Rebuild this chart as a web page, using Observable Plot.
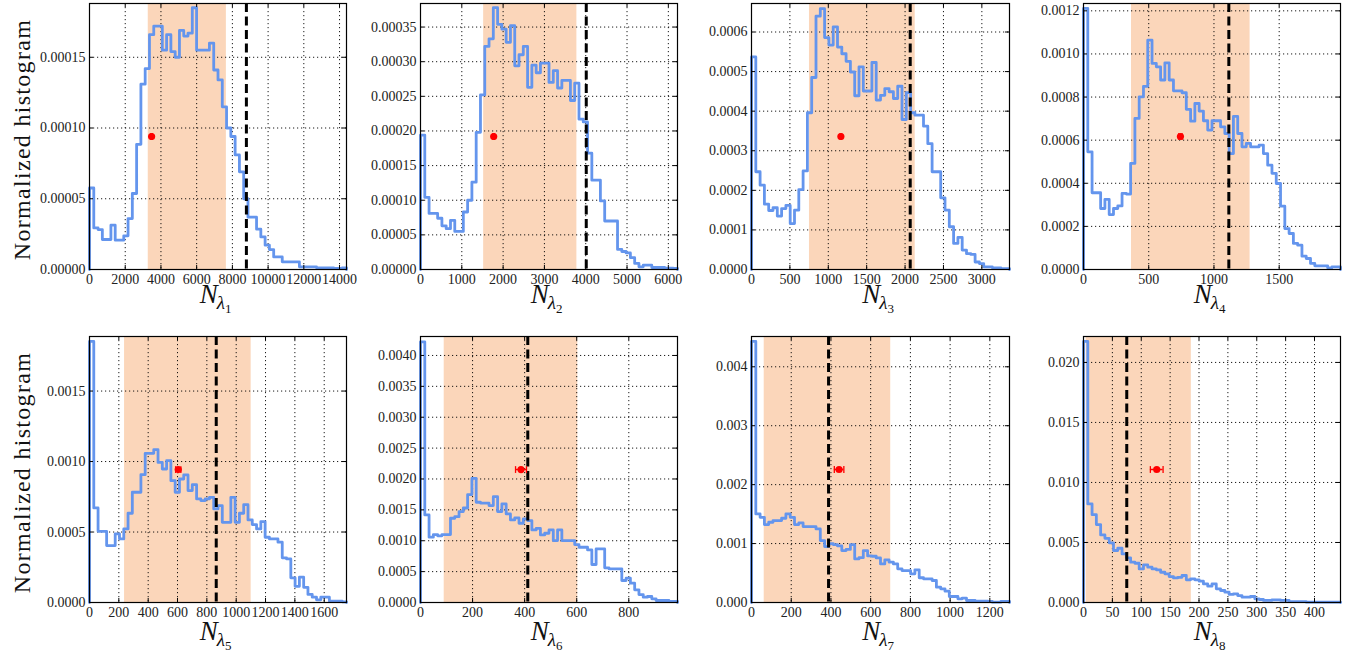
<!DOCTYPE html>
<html>
<head>
<meta charset="utf-8">
<script src="https://cdn.jsdelivr.net/npm/d3@7"></script>
<script src="https://cdn.jsdelivr.net/npm/@observablehq/plot@0.6"></script>
<style>
  body { margin: 0; background: #fff; }
  #fig { position: relative; width: 1363px; height: 654px; overflow: hidden; font-family: "Liberation Serif", serif; }
  #fig svg { position: absolute; }
  #fig svg text { font-family: "Liberation Serif", serif; }
</style>
</head>
<body>
<div id="fig"></div>
<script>
// Normalized step histograms of the counts N_lambda1 ... N_lambda8 (60 equal bins from 0 to xMax)
const hist1 = [5.76e-5, 2.94e-5, 2.82e-5, 2.12e-5, 2.12e-5, 3.13e-5, 2.07e-5, 2.07e-5, 2.38e-5, 3.6e-5,
  5.37e-5, 8.85e-5, 1.31e-4, 1.42e-4, 1.66e-4, 1.72e-4, 1.72e-4, 1.55e-4, 1.66e-4, 1.54e-4,
  1.5e-4, 1.69e-4, 1.65e-4, 1.67e-4, 1.85e-4, 1.55e-4, 1.55e-4, 1.55e-4, 1.6e-4, 1.41e-4,
  1.34e-4, 1.15e-4, 1.0e-4, 9.4e-5, 8.1e-5, 6.9e-5, 5.0e-5, 3.7e-5, 3.7e-5, 2.85e-5,
  2.3e-5, 1.72e-5, 1.41e-5, 8.9e-6, 8.9e-6, 5.4e-6, 5.4e-6, 5.4e-6, 5.4e-6, 1.9e-6,
  1.9e-6, 1.9e-6, 1.9e-6, 1.2e-6, 1.2e-6, 1.2e-6, 1.2e-6, 0.7e-6, 0.7e-6, 1.2e-6];
const hist2 = [1.94e-4, 1.04e-4, 8.1e-5, 8.1e-5, 7.4e-5, 6.3e-5, 5.9e-5, 7.1e-5, 5.5e-5, 5.5e-5,
  8.3e-5, 1.0e-4, 1.26e-4, 1.98e-4, 2.52e-4, 3.22e-4, 3.33e-4, 3.78e-4, 3.54e-4, 3.47e-4,
  3.28e-4, 3.52e-4, 2.94e-4, 3.1e-4, 3.22e-4, 2.63e-4, 2.95e-4, 2.84e-4, 2.98e-4, 2.98e-4,
  2.7e-4, 2.87e-4, 2.62e-4, 2.73e-4, 2.73e-4, 2.44e-4, 2.69e-4, 2.17e-4, 2.13e-4, 1.68e-4,
  1.29e-4, 1.29e-4, 9.9e-5, 7.0e-5, 7.0e-5, 7.0e-5, 2.9e-5, 2.6e-5, 2.4e-5, 1.7e-5,
  8.7e-6, 3.9e-6, 6.3e-6, 6.3e-6, 2.9e-6, 2.9e-6, 2.9e-6, 1.9e-6, 1.9e-6, 1.5e-6];
const hist3 = [5.37e-4, 2.47e-4, 2.13e-4, 1.65e-4, 1.49e-4, 1.56e-4, 1.35e-4, 1.54e-4, 1.62e-4, 1.16e-4,
  1.5e-4, 2.02e-4, 2.49e-4, 3.96e-4, 4.85e-4, 6.4e-4, 6.59e-4, 5.86e-4, 5.67e-4, 6.13e-4,
  5.62e-4, 5.45e-4, 5.26e-4, 4.99e-4, 4.39e-4, 5.12e-4, 4.51e-4, 4.51e-4, 5.23e-4, 4.28e-4,
  4.4e-4, 4.57e-4, 4.49e-4, 4.32e-4, 4.63e-4, 3.79e-4, 4.47e-4, 3.96e-4, 3.9e-4, 3.9e-4,
  3.62e-4, 3.18e-4, 2.47e-4, 2.47e-4, 1.81e-4, 1.5e-4, 1.08e-4, 6.6e-5, 8.1e-5, 4.9e-5,
  4.0e-5, 3.8e-5, 1.9e-5, 1.5e-5, 6.7e-6, 6.7e-6, 4.2e-6, 4.2e-6, 2e-6, 2e-6];
const hist4 = [1.211e-3, 5.46e-4, 3.56e-4, 3.56e-4, 2.83e-4, 3.25e-4, 2.55e-4, 2.83e-4, 2.95e-4, 3.53e-4,
  3.5e-4, 4.92e-4, 7.01e-4, 8.01e-4, 8.5e-4, 1.064e-3, 9.56e-4, 9.4e-4, 8.79e-4, 9.59e-4,
  8.79e-4, 8.29e-4, 8.29e-4, 8.2e-4, 7.43e-4, 6.88e-4, 7.7e-4, 7.35e-4, 6.9e-4, 6.47e-4,
  6.9e-4, 6.9e-4, 6.62e-4, 6.31e-4, 5.38e-4, 7.1e-4, 6.31e-4, 5.69e-4, 5.85e-4, 5.69e-4,
  5.69e-4, 5.77e-4, 5.38e-4, 4.84e-4, 4.46e-4, 3.99e-4, 2.94e-4, 1.9e-4, 1.67e-4, 1.21e-4,
  1.13e-4, 6.2e-5, 5.1e-5, 2.8e-5, 1.7e-5, 1.7e-5, 1.7e-5, 8e-6, 1.2e-5, 1.2e-5];
const hist5 = [1.852e-3, 6.71e-4, 5.05e-4, 5.05e-4, 4.04e-4, 4.04e-4, 4.87e-4, 4.51e-4, 5.22e-4, 6.33e-4,
  7.82e-4, 7.82e-4, 9.07e-4, 1.058e-3, 1.058e-3, 1.084e-3, 9.94e-4, 9.47e-4, 1.006e-3, 8.64e-4,
  7.82e-4, 8.76e-4, 9.05e-4, 7.94e-4, 8.36e-4, 7.35e-4, 7.23e-4, 7.35e-4, 7.46e-4, 6.64e-4,
  6.87e-4, 5.69e-4, 5.69e-4, 7.46e-4, 5.69e-4, 6.33e-4, 6.94e-4, 5.86e-4, 5.53e-4, 5.22e-4,
  5.74e-4, 4.63e-4, 4.51e-4, 4.51e-4, 4.28e-4, 3.17e-4, 3.09e-4, 1.75e-4, 1.15e-4, 1.8e-4,
  1.08e-4, 5.7e-5, 3.8e-5, 1.9e-5, 3.8e-5, 3.8e-5, 1.0e-5, 1.0e-5, 1.0e-5, 5e-6];
const hist6 = [4.22e-3, 1.418e-3, 1.057e-3, 1.1e-3, 1.08e-3, 1.1e-3, 1.1e-3, 1.364e-3, 1.39e-3, 1.472e-3,
  1.53e-3, 1.747e-3, 2.01e-3, 1.623e-3, 1.61e-3, 1.61e-3, 1.57e-3, 1.714e-3, 1.472e-3, 1.596e-3,
  1.434e-3, 1.337e-3, 1.37e-3, 1.283e-3, 1.353e-3, 1.326e-3, 1.175e-3, 1.2e-3, 1.094e-3, 1.121e-3,
  1.175e-3, 1.003e-3, 1.175e-3, 1.003e-3, 1.003e-3, 1.003e-3, 9.38e-4, 8.95e-4, 8.95e-4, 8.52e-4,
  6.15e-4, 8.68e-4, 8.68e-4, 5.61e-4, 5.45e-4, 5.45e-4, 5.45e-4, 3.56e-4, 3.94e-4, 3.13e-4,
  2.05e-4, 1.29e-4, 8.6e-5, 9.7e-5, 5.9e-5, 3.2e-5, 3.2e-5, 3.2e-5, 1.6e-5, 1.6e-5];
const hist7 = [4.43e-3, 1.503e-3, 1.446e-3, 1.322e-3, 1.362e-3, 1.39e-3, 1.39e-3, 1.43e-3, 1.503e-3, 1.446e-3,
  1.322e-3, 1.35e-3, 1.288e-3, 1.288e-3, 1.288e-3, 1.249e-3, 1.051e-3, 9.49e-4, 1.0e-3, 9.83e-4,
  9.6e-4, 8.81e-4, 9.0e-4, 9.83e-4, 7.4e-4, 7.6e-4, 8.81e-4, 7.91e-4, 7.85e-4, 7.57e-4,
  6.55e-4, 7.23e-4, 6.84e-4, 6.55e-4, 5.71e-4, 5.42e-4, 5.42e-4, 4.86e-4, 5.54e-4, 4.2e-4,
  4.01e-4, 4.01e-4, 3.73e-4, 2.6e-4, 2.32e-4, 1.92e-4, 1.02e-4, 1.02e-4, 6.2e-5, 7.3e-5,
  3.4e-5, 3.4e-5, 2.3e-5, 2.3e-5, 2.3e-5, 1.7e-5, 6e-6, 6e-6, 1.7e-5, 1.7e-5];
const hist8 = [2.175e-2, 8.21e-3, 7.32e-3, 6.49e-3, 5.63e-3, 5.35e-3, 4.97e-3, 4.33e-3, 4.52e-3, 4.05e-3,
  3.72e-3, 3.36e-3, 3.27e-3, 2.8e-3, 3.13e-3, 2.94e-3, 2.8e-3, 2.72e-3, 2.52e-3, 2.39e-3,
  2.16e-3, 2.05e-3, 2.1e-3, 2.25e-3, 1.89e-3, 1.97e-3, 1.89e-3, 1.78e-3, 1.55e-3, 1.36e-3,
  1.55e-3, 1.14e-3, 1.0e-3, 8.6e-4, 6.7e-4, 7.2e-4, 5.8e-4, 4.4e-4, 4.4e-4, 5.0e-4,
  3.1e-4, 2.5e-4, 1.7e-4, 1.7e-4, 2.2e-4, 2.2e-4, 1.7e-4, 1.7e-4, 8e-5, 8e-5,
  8e-5, 8e-5, 3e-5, 3e-5, 3e-5, 3e-5, 3e-5, 3e-5, 3e-5, 3e-5];

// Axis extents
const xMax = [14390, 6222, 3360, 1970, 1752, 987, 1299, 445];
const yMax = [1.88e-4, 3.84e-4, 6.72e-4, 1.234e-3, 1.887e-3, 4.307e-3, 4.514e-3, 2.216e-2];

// Shaded interval, dashed reference value, and measured value with its error
const bandLow  = [3290, 1529, 755, 368, 239, 91, 64, 4.6];
const bandHigh = [7664, 3786, 2132, 1277, 1102, 604, 701, 186.7];
const refValue = [8785, 4013, 2067, 1114, 864, 412, 388, 74.9];
const measX    = [3477, 1772, 1164, 743, 605, 386, 441, 126.8];
const measErr  = [40, 20, 10, 12, 18, 21, 24, 11];
const measY    = [9.4e-5, 1.92e-4, 3.36e-4, 6.17e-4, 9.43e-4, 2.153e-3, 2.257e-3, 1.108e-2];

// Tick values
const xTicks = [
  [0, 2000, 4000, 6000, 8000, 10000, 12000, 14000],
  [0, 1000, 2000, 3000, 4000, 5000, 6000],
  [0, 500, 1000, 1500, 2000, 2500, 3000],
  [0, 500, 1000, 1500],
  [0, 200, 400, 600, 800, 1000, 1200, 1400, 1600],
  [0, 200, 400, 600, 800],
  [0, 200, 400, 600, 800, 1000, 1200],
  [0, 50, 100, 150, 200, 250, 300, 350, 400]
];
const yTicks = [
  [0, 5e-5, 1e-4, 1.5e-4],
  [0, 5e-5, 1e-4, 1.5e-4, 2e-4, 2.5e-4, 3e-4, 3.5e-4],
  [0, 1e-4, 2e-4, 3e-4, 4e-4, 5e-4, 6e-4],
  [0, 2e-4, 4e-4, 6e-4, 8e-4, 1e-3, 1.2e-3],
  [0, 5e-4, 1e-3, 1.5e-3],
  [0, 5e-4, 1e-3, 1.5e-3, 2e-3, 2.5e-3, 3e-3, 3.5e-3, 4e-3],
  [0, 1e-3, 2e-3, 3e-3, 4e-3],
  [0, 5e-3, 1e-2, 1.5e-2, 2e-2]
];
const yDecimals = [5, 5, 4, 4, 4, 4, 3, 3];
const yTitle = "Normalized histogram";

const histograms = [hist1, hist2, hist3, hist4, hist5, hist6, hist7, hist8];

// Page layout of the 2 x 4 grid of panels
const colLeft = [89, 420, 751, 1083];
const colWidth = [257, 257, 258, 257];
const rowTop = [3, 336];
const titleOffset = [34, 38];
const panelHeight = 266;
const serif = "Liberation Serif, serif";

// Vertical bar used as the error-bar cap
const capSymbol = {
  draw(context, size) {
    const r = Math.sqrt(size / Math.PI);
    context.moveTo(0, -r);
    context.lineTo(0, r);
  }
};

const fig = document.getElementById("fig");

function drawPanel(i) {
  const col = i % 4, row = Math.floor(i / 4);
  const ml = col === 0 ? 89 : 72, mr = 8, mt = 3, mb = 52;
  const w = colWidth[col], h = panelHeight;
  const vals = histograms[i];
  const n = vals.length, bw = xMax[i] / n;
  const outline = [{x: 0, y: 0}]
    .concat(vals.map((v, k) => ({x: k * bw, y: v})))
    .concat([{x: xMax[i], y: vals[n - 1]}, {x: xMax[i], y: 0}]);
  const meas = [{x: measX[i], y: measY[i], e: measErr[i]}];
  const caps = [{x: measX[i] - measErr[i], y: measY[i]}, {x: measX[i] + measErr[i], y: measY[i]}];

  const marks = [
    Plot.rect([[bandLow[i], bandHigh[i]]], {x1: d => d[0], x2: d => d[1], fill: "#fbd6ba"}),
    Plot.gridX(xTicks[i], {stroke: "#000", strokeOpacity: 0.9, strokeWidth: 1, strokeDasharray: "1.2,2.8"}),
    Plot.gridY(yTicks[i], {stroke: "#000", strokeOpacity: 0.9, strokeWidth: 1, strokeDasharray: "1.2,2.8"}),
    Plot.line(outline, {x: "x", y: "y", curve: "step-after", stroke: "#6495ED", strokeWidth: 2.8}),
    Plot.ruleX([refValue[i]], {stroke: "#000", strokeWidth: 3, strokeDasharray: "9,4.5"}),
    Plot.ruleY(meas, {y: "y", x1: d => d.x - d.e, x2: d => d.x + d.e, stroke: "red", strokeWidth: 1.5}),
    Plot.dot(caps, {x: "x", y: "y", r: 3.4, symbol: capSymbol, stroke: "red", fill: "none", strokeWidth: 1.3}),
    Plot.dot(meas, {x: "x", y: "y", r: 3.6, fill: "red", stroke: "none"}),
    // inward ticks on all four sides
    Plot.tickX(xTicks[i], {insetTop: h - 4, stroke: "#000"}),
    Plot.tickX(xTicks[i], {insetBottom: h - 4, stroke: "#000"}),
    Plot.tickY(yTicks[i], {insetRight: w - 4, stroke: "#000"}),
    Plot.tickY(yTicks[i], {insetLeft: w - 4, stroke: "#000"}),
    Plot.frame({stroke: "#000", strokeWidth: 1.2}),
    Plot.axisX(xTicks[i], {tickSize: 0, tickPadding: 5, tickFormat: d3.format("d"), label: null, fontFamily: serif}),
    Plot.axisY(yTicks[i], {tickSize: 0, tickPadding: 4, tickFormat: d3.format(`.${yDecimals[i]}f`), label: null, fontFamily: serif})
  ];
  if (col === 0) {
    marks.push(Plot.text([yTitle], {
      text: d => d, frameAnchor: "left", textAnchor: "middle", lineAnchor: "middle",
      rotate: -90, dx: -67, dy: 3, fontSize: 24, fontFamily: serif, fill: "#111"
    }));
  }

  const chart = Plot.plot({
    width: ml + w + mr,
    height: mt + h + mb,
    marginLeft: ml, marginRight: mr, marginTop: mt, marginBottom: mb,
    style: {background: "transparent", overflow: "visible", fontFamily: serif, fontSize: "14px", color: "#222"},
    x: {domain: [0, xMax[i]], label: null},
    y: {domain: [0, yMax[i]], label: null},
    marks
  });

  const svg = d3.select(chart);
  svg.selectAll("text").filter(function () { return this.textContent === yTitle; })
    .attr("letter-spacing", "1.3px");

  // x-axis title: N with subscript lambda_i
  const t = svg.append("text")
    .attr("x", ml + w / 2 - 2)
    .attr("y", mt + h + titleOffset[row])
    .attr("text-anchor", "middle")
    .attr("font-family", serif)
    .attr("fill", "#111");
  t.append("tspan").attr("font-style", "italic").attr("font-size", 27).text("N");
  t.append("tspan").attr("font-style", "italic").attr("font-size", 19).attr("dx", -1).attr("dy", 6).text("λ");
  t.append("tspan").attr("font-size", 13).attr("dy", 4).text(String(i + 1));

  chart.style.left = (colLeft[col] - ml) + "px";
  chart.style.top = (rowTop[row] - mt) + "px";
  fig.appendChild(chart);
}

for (let i = 0; i < 8; i++) drawPanel(i);
</script>
</body>
</html>
